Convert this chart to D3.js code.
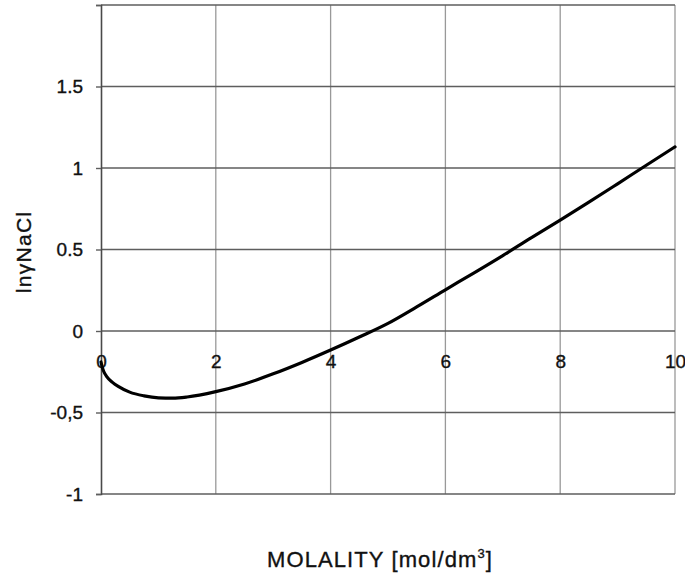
<!DOCTYPE html>
<html>
<head>
<meta charset="utf-8">
<script src="https://cdn.jsdelivr.net/npm/d3@7"></script>
<style>
  html, body { margin: 0; padding: 0; background: #fff; }
  svg { display: block; font-family: "Liberation Sans", Arial, sans-serif; }
  .lbl { fill: #111; stroke: #111; stroke-width: 0.35px; }
</style>
</head>
<body>
<svg id="chart" width="685" height="576"></svg>
<script>
// Activity coefficient of NaCl (ln γ) against molality
const molality = [0, 0.02, 0.05, 0.1, 0.2, 0.3, 0.5, 0.75, 1.0, 1.25, 1.5, 2.0, 2.5, 3.0, 3.5, 4.0, 4.5, 5.0, 5.5, 6.0, 6.5, 7.0, 7.5, 8.0, 8.5, 9.0, 9.5, 10.0];
const lnGamma  = [-0.19, -0.22, -0.25, -0.28, -0.315, -0.34, -0.375, -0.398, -0.41, -0.412, -0.405, -0.372, -0.325, -0.263, -0.193, -0.117, -0.037, 0.047, 0.148, 0.253, 0.357, 0.463, 0.573, 0.68, 0.79, 0.903, 1.017, 1.13];

const xTickValues = [0, 2, 4, 6, 8, 10];
const xTickLabels = ["0", "2", "4", "6", "8", "10"];
const yGridValues = [-1, -0.5, 0, 0.5, 1, 1.5, 2];
const yLabelValues = [-1, -0.5, 0, 0.5, 1, 1.5];
const yTickLabels = ["-1", "-0,5", "0", "0.5", "1", "1.5"];

const svg = d3.select("#chart");
const plot = { left: 101, right: 675, top: 5, bottom: 494 };

const x = d3.scaleLinear().domain([0, 10]).range([plot.left, plot.right]);
const y = d3.scaleLinear().domain([-1, 2]).range([plot.bottom, plot.top]);

// vertical grid lines
svg.append("g").selectAll("line").data(xTickValues.filter(d => d > 0)).join("line")
  .attr("x1", d => x(d)).attr("x2", d => x(d))
  .attr("y1", y(2)).attr("y2", y(-1))
  .attr("stroke", "#999").attr("stroke-width", 1.3);

// horizontal grid lines
svg.append("g").selectAll("line").data(yGridValues).join("line")
  .attr("x1", x(0)).attr("x2", x(10))
  .attr("y1", d => y(d)).attr("y2", d => y(d))
  .attr("stroke", "#5e5e5e").attr("stroke-width", 1.4);

// y axis with short outward ticks
const yAxis = d3.axisLeft(y)
  .tickValues(yGridValues)
  .tickSize(5)
  .tickPadding(13)
  .tickFormat(d => {
    const i = yLabelValues.indexOf(d);
    return i >= 0 ? yTickLabels[i] : "";
  });
const gy = svg.append("g").attr("transform", `translate(${plot.left},0)`).call(yAxis);
gy.select(".domain").attr("stroke", "#4a4a4a").attr("stroke-width", 1.6);
gy.selectAll(".tick line").attr("stroke", "#5e5e5e").attr("stroke-width", 1.4);
gy.selectAll(".tick text")
  .attr("class", "lbl")
  .attr("font-size", 19)
  .attr("font-family", "'Liberation Sans', Arial, sans-serif");

// x axis labels sit just under the zero line
const xAxis = d3.axisBottom(x)
  .tickValues(xTickValues)
  .tickSize(0)
  .tickPadding(24)
  .tickFormat((d, i) => xTickLabels[i]);
const gx = svg.append("g").attr("transform", `translate(0,${y(0)})`).call(xAxis);
gx.select(".domain").remove();
gx.selectAll(".tick text")
  .attr("class", "lbl")
  .attr("font-size", 19)
  .attr("font-family", "'Liberation Sans', Arial, sans-serif");

// curve
const line = d3.line()
  .x((d, i) => x(molality[i]))
  .y(d => y(d))
  .curve(d3.curveMonotoneX);
svg.append("path")
  .datum(lnGamma)
  .attr("d", line)
  .attr("fill", "none")
  .attr("stroke", "#000")
  .attr("stroke-width", 3.2)
  .attr("stroke-linecap", "round");

// axis titles
svg.append("text")
  .attr("class", "lbl")
  .attr("transform", `translate(31,252) rotate(-90)`)
  .attr("text-anchor", "middle")
  .attr("font-size", 21)
  .attr("letter-spacing", 1.3)
  .text("lnγNaCl");

const xt = svg.append("text")
  .attr("class", "lbl")
  .attr("x", 380)
  .attr("y", 567)
  .attr("text-anchor", "middle")
  .attr("font-size", 22)
  .attr("letter-spacing", 1.1);
xt.append("tspan").text("MOLALITY [mol/dm");
xt.append("tspan").attr("font-size", 13).attr("dy", -9).text("3");
xt.append("tspan").attr("dy", 9).text("]");
</script>
</body>
</html>
